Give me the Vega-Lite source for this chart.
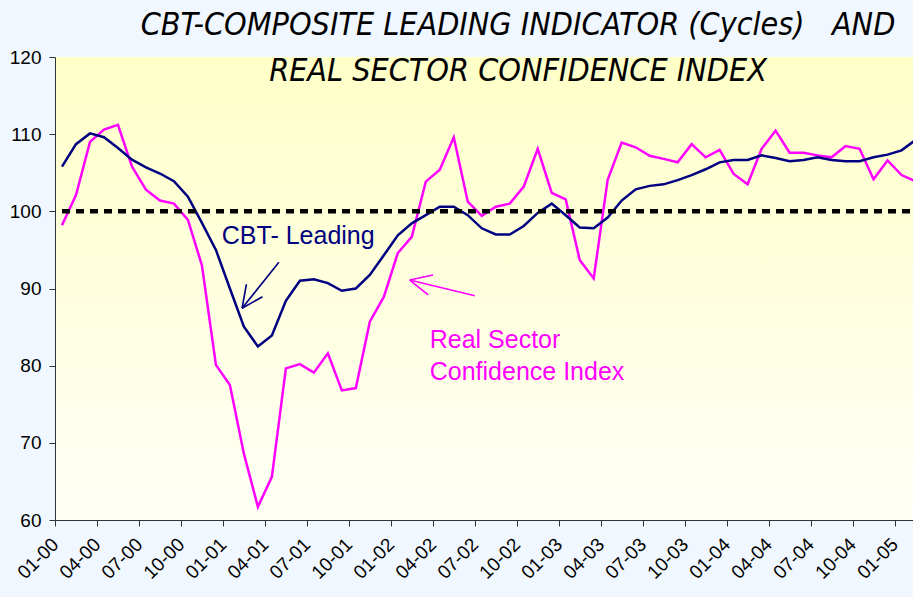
{
  "$schema": "https://vega.github.io/schema/vega-lite/v6.json",
  "autosize": "none",
  "width": 858,
  "height": 463,
  "padding": {"left": 55, "top": 57, "right": 0, "bottom": 77},
  "background": "#F0F7FF",
  "config": {
    "view": {"stroke": null, "fill": {"gradient": "linear", "x1": 0, "y1": 0, "x2": 0, "y2": 1, "stops": [{"offset": 0, "color": "#FFFFC8"}, {"offset": 1, "color": "#FFFFF6"}]}},
    "axis": {"grid": false, "domainColor": "#333333", "tickColor": "#333333", "labelColor": "#000000", "labelFont": "Liberation Sans", "labelFontSize": 19, "title": null, "tickSize": 6}
  },
  "title": {
    "text": ["CBT-COMPOSITE LEADING INDICATOR (Cycles)\u00a0\u00a0\u00a0AND", "REAL SECTOR CONFIDENCE INDEX"],
    "font": "DejaVu Sans Condensed",
    "fontStyle": "italic",
    "fontWeight": "normal",
    "fontSize": 32,
    "lineHeight": 46,
    "color": "#000000",
    "anchor": "middle",
    "frame": "group",
    "baseline": "top",
    "offset": 0,
    "dx": 34,
    "dy": 40
  },
  "datasets": {
    "series": [
      {"i": 0, "lead": 105.8, "rsci": 98.2},
      {"i": 1, "lead": 108.7, "rsci": 102.1},
      {"i": 2, "lead": 110.1, "rsci": 109.0},
      {"i": 3, "lead": 109.6, "rsci": 110.6},
      {"i": 4, "lead": 108.2, "rsci": 111.2},
      {"i": 5, "lead": 106.7, "rsci": 105.8},
      {"i": 6, "lead": 105.7, "rsci": 102.8},
      {"i": 7, "lead": 104.9, "rsci": 101.4},
      {"i": 8, "lead": 103.9, "rsci": 101.0},
      {"i": 9, "lead": 101.9, "rsci": 98.9},
      {"i": 10, "lead": 98.5, "rsci": 93.0},
      {"i": 11, "lead": 95.0, "rsci": 80.1},
      {"i": 12, "lead": 90.0, "rsci": 77.5},
      {"i": 13, "lead": 85.05, "rsci": 68.6},
      {"i": 14, "lead": 82.5, "rsci": 61.7},
      {"i": 15, "lead": 83.9, "rsci": 65.6},
      {"i": 16, "lead": 88.4, "rsci": 79.65},
      {"i": 17, "lead": 91.0, "rsci": 80.2},
      {"i": 18, "lead": 91.2, "rsci": 79.1},
      {"i": 19, "lead": 90.7, "rsci": 81.6},
      {"i": 20, "lead": 89.7, "rsci": 76.8},
      {"i": 21, "lead": 90.0, "rsci": 77.1},
      {"i": 22, "lead": 91.75, "rsci": 85.7},
      {"i": 23, "lead": 94.3, "rsci": 88.9},
      {"i": 24, "lead": 96.9, "rsci": 94.6},
      {"i": 25, "lead": 98.45, "rsci": 96.7},
      {"i": 26, "lead": 99.5, "rsci": 103.85},
      {"i": 27, "lead": 100.6, "rsci": 105.4},
      {"i": 28, "lead": 100.6, "rsci": 109.6},
      {"i": 29, "lead": 99.5, "rsci": 101.25},
      {"i": 30, "lead": 97.8, "rsci": 99.4},
      {"i": 31, "lead": 97.0, "rsci": 100.6},
      {"i": 32, "lead": 97.0, "rsci": 101.0},
      {"i": 33, "lead": 98.1, "rsci": 103.2},
      {"i": 34, "lead": 99.8, "rsci": 108.1},
      {"i": 35, "lead": 101.0, "rsci": 102.4},
      {"i": 36, "lead": 99.5, "rsci": 101.55},
      {"i": 37, "lead": 97.9, "rsci": 93.7},
      {"i": 38, "lead": 97.8, "rsci": 91.3},
      {"i": 39, "lead": 99.2, "rsci": 104.1},
      {"i": 40, "lead": 101.4, "rsci": 108.9},
      {"i": 41, "lead": 102.85, "rsci": 108.3},
      {"i": 42, "lead": 103.3, "rsci": 107.2},
      {"i": 43, "lead": 103.5, "rsci": 106.8},
      {"i": 44, "lead": 104.05, "rsci": 106.35},
      {"i": 45, "lead": 104.7, "rsci": 108.7},
      {"i": 46, "lead": 105.45, "rsci": 107.0},
      {"i": 47, "lead": 106.35, "rsci": 107.95},
      {"i": 48, "lead": 106.65, "rsci": 104.85},
      {"i": 49, "lead": 106.65, "rsci": 103.5},
      {"i": 50, "lead": 107.25, "rsci": 108.1},
      {"i": 51, "lead": 106.9, "rsci": 110.45},
      {"i": 52, "lead": 106.5, "rsci": 107.6},
      {"i": 53, "lead": 106.65, "rsci": 107.6},
      {"i": 54, "lead": 107.0, "rsci": 107.25},
      {"i": 55, "lead": 106.65, "rsci": 107.0},
      {"i": 56, "lead": 106.5, "rsci": 108.45},
      {"i": 57, "lead": 106.5, "rsci": 108.1},
      {"i": 58, "lead": 107.0, "rsci": 104.15},
      {"i": 59, "lead": 107.35, "rsci": 106.6},
      {"i": 60, "lead": 107.9, "rsci": 104.7},
      {"i": 61, "lead": 109.25, "rsci": 103.9}
    ],
    "navyArrow": [
      {"x": 15.5, "y": 93.4, "x2": 12.87, "y2": 87.44},
      {"x": 13.18, "y": 90.55, "x2": 12.87, "y2": 87.44},
      {"x": 14.33, "y": 88.94, "x2": 12.87, "y2": 87.44}
    ],
    "pinkArrow": [
      {"x": 29.5, "y": 89.07, "x2": 24.85, "y2": 91.1},
      {"x": 26.52, "y": 91.75, "x2": 24.85, "y2": 91.1},
      {"x": 26.17, "y": 89.16, "x2": 24.85, "y2": 91.1}
    ],
    "refLine": [{"x": 0, "x2": 61, "y": 100}],
    "navyLabel": [{"t": "CBT- Leading", "x": 11.42, "y": 95.77}],
    "pinkLabel": [
      {"t": "Real Sector", "x": 26.28, "y": 82.3},
      {"t": "Confidence Index", "x": 26.28, "y": 78.15}
    ]
  },
  "encoding": {
    "x": {
      "field": "i", "type": "quantitative",
      "scale": {"domain": [-0.5, 60.82], "nice": false, "zero": false},
      "axis": {
        "values": [-0.5, 2.5, 5.5, 8.5, 11.5, 14.5, 17.5, 20.5, 23.5, 26.5, 29.5, 32.5, 35.5, 38.5, 41.5, 44.5, 47.5, 50.5, 53.5, 56.5, 59.5],
        "labelExpr": "((((datum.value+0.5)%12)+1) < 10 ? '0' : '') + (((datum.value+0.5)%12)+1) + '-0' + floor((datum.value+0.5)/12)",
        "labelAngle": -45,
        "labelAlign": "right",
        "labelBaseline": "middle",
        "labelPadding": 15,
        "labelBound": false,
        "labelOverlap": false
      }
    }
  },
  "layer": [
    {
      "data": {"name": "series"},
      "mark": {"type": "line", "color": "#FF00FF", "strokeWidth": 2.5, "clip": true},
      "encoding": {
        "y": {"field": "rsci", "type": "quantitative", "scale": {"domain": [60, 120], "nice": false, "zero": false},
          "axis": {"values": [60, 70, 80, 90, 100, 110, 120], "labelPadding": 8}}
      }
    },
    {
      "data": {"name": "series"},
      "mark": {"type": "line", "color": "#000080", "strokeWidth": 2.5, "clip": true},
      "encoding": {"y": {"field": "lead", "type": "quantitative"}}
    },
    {
      "data": {"name": "refLine"},
      "mark": {"type": "rule", "color": "#000000", "strokeWidth": 4.5, "strokeDash": [8, 6]},
      "encoding": {"x": {"field": "x", "type": "quantitative"}, "x2": {"field": "x2"}, "y": {"field": "y", "type": "quantitative"}}
    },
    {
      "data": {"name": "navyArrow"},
      "mark": {"type": "rule", "color": "#000080", "strokeWidth": 1.6},
      "encoding": {"x": {"field": "x", "type": "quantitative"}, "x2": {"field": "x2"}, "y": {"field": "y", "type": "quantitative"}, "y2": {"field": "y2"}}
    },
    {
      "data": {"name": "pinkArrow"},
      "mark": {"type": "rule", "color": "#FF00FF", "strokeWidth": 1.6},
      "encoding": {"x": {"field": "x", "type": "quantitative"}, "x2": {"field": "x2"}, "y": {"field": "y", "type": "quantitative"}, "y2": {"field": "y2"}}
    },
    {
      "data": {"name": "navyLabel"},
      "mark": {"type": "text", "color": "#000080", "font": "Liberation Sans", "fontSize": 25, "align": "left", "baseline": "alphabetic"},
      "encoding": {"x": {"field": "x", "type": "quantitative"}, "y": {"field": "y", "type": "quantitative"}, "text": {"field": "t"}}
    },
    {
      "data": {"name": "pinkLabel"},
      "mark": {"type": "text", "color": "#FF00FF", "font": "Liberation Sans", "fontSize": 25, "align": "left", "baseline": "alphabetic"},
      "encoding": {"x": {"field": "x", "type": "quantitative"}, "y": {"field": "y", "type": "quantitative"}, "text": {"field": "t"}}
    }
  ]
}
